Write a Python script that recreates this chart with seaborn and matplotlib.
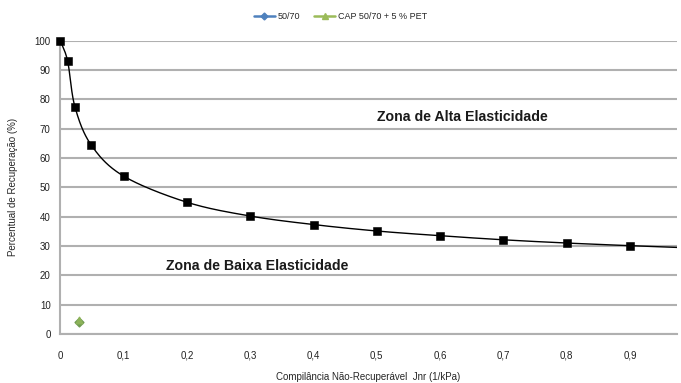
import numpy as np
import matplotlib
matplotlib.use("Agg")
import matplotlib.pyplot as plt
import seaborn as sns
import pandas as pd

# Non-recoverable compliance (Jnr, 1/kPa) vs. percent recovery boundary curve
curve_jnr = [0.0, 0.0115, 0.023, 0.049, 0.1, 0.2, 0.3, 0.4, 0.5, 0.6, 0.7, 0.8, 0.9, 1.0]
curve_rec = [100.0, 92.9, 77.4, 64.3, 53.8, 44.9, 40.2, 37.3, 35.1, 33.5, 32.1, 31.0, 30.1, 29.3]

# Binder results
binder_names = ["50/70", "CAP 50/70 + 5 % PET"]
binder_jnr = [0.03, 0.03]
binder_rec = [4.0, 4.8]

x_ticks = [0, 0.1, 0.2, 0.3, 0.4, 0.5, 0.6, 0.7, 0.8, 0.9]
x_tick_labels = ["0", "0,1", "0,2", "0,3", "0,4", "0,5", "0,6", "0,7", "0,8", "0,9"]
y_ticks = list(range(0, 101, 10))

sns.set_theme(style="white")
plt.rcParams["font.family"] = ["Liberation Sans Narrow", "Liberation Sans", "DejaVu Sans"]


def smooth(xs, ys, n=30):
    """Bezier smoothing through the points, used only for drawing the curve."""
    xs = np.asarray(xs, float)
    ys = np.asarray(ys, float)
    px = np.concatenate([[2 * xs[0] - xs[1]], xs, [2 * xs[-1] - xs[-2]]])
    py = np.concatenate([[2 * ys[0] - ys[1]], ys, [2 * ys[-1] - ys[-2]]])
    out_x, out_y = [], []
    for i in range(1, len(px) - 2):
        t = np.linspace(0, 1, n, endpoint=False)
        p0, p1, p2, p3 = [np.array([px[j], py[j]]) for j in range(i - 1, i + 3)]
        m1 = (p2 - p0) / 6.0
        m2 = (p3 - p1) / 6.0
        c1 = p1 + m1
        c2 = p2 - m2
        b = ((1 - t) ** 3)[:, None] * p1 + (3 * (1 - t) ** 2 * t)[:, None] * c1 \
            + (3 * (1 - t) * t ** 2)[:, None] * c2 + (t ** 3)[:, None] * p2
        out_x.extend(b[:, 0])
        out_y.extend(b[:, 1])
    out_x.append(xs[-1])
    out_y.append(ys[-1])
    return np.array(out_x), np.array(out_y)


fig = plt.figure(figsize=(6.81, 3.83), dpi=100)
ax = fig.add_axes([0.0887, 0.128, 0.905, 0.766])

sx, sy = smooth(curve_jnr, curve_rec)
sns.lineplot(x=sx, y=sy, ax=ax, color="black", lw=1.0, sort=False, zorder=3)
sns.scatterplot(x=curve_jnr[:-1], y=curve_rec[:-1], ax=ax, marker="s", s=26, color="black",
                edgecolor="black", zorder=4, clip_on=False)

binder_df = pd.DataFrame({"Jnr": binder_jnr, "Rec": binder_rec, "Ligante": binder_names})
ax.scatter(binder_df["Jnr"][0], binder_df["Rec"][0], marker="D", s=20, color="#6f9a52",
           zorder=5)
ax.scatter(binder_df["Jnr"][1], binder_df["Rec"][1], marker="^", s=22, color="#8db35a",
           zorder=6)

# legend handles
h1, = ax.plot([], [], color="#4f81bd", marker="D", ms=3.5, lw=1.8)
h2, = ax.plot([], [], color="#9bbb59", marker="^", ms=4.5, lw=1.8)
fig.legend([h1, h2], binder_names, loc="center", bbox_to_anchor=(0.5, 0.957), ncol=2,
           frameon=False, fontsize=6.5, handlelength=2.3, columnspacing=1.6,
           handletextpad=0.3)

ax.set_xlim(0, 0.974)
ax.set_ylim(0, 100)
ax.set_xticks(x_ticks)
ax.set_xticklabels(x_tick_labels, fontsize=7)
ax.set_yticks(y_ticks)
ax.set_yticklabels([str(v) for v in y_ticks], fontsize=7)
ax.grid(axis="y", color="#b0b0b0", lw=1.5)
ax.set_axisbelow(True)
for side in ["top", "right"]:
    ax.spines[side].set_visible(False)
for side in ["left", "bottom"]:
    ax.spines[side].set_color("#b0b0b0")
    ax.spines[side].set_linewidth(1.5)
ax.tick_params(axis="both", which="both", length=3, width=1, color="#b0b0b0",
               direction="out", labelcolor="#222222")
ax.tick_params(axis="x", pad=9)
ax.tick_params(axis="y", pad=4)

ax.set_xlabel("Compilância Não-Recuperável  Jnr (1/kPa)", fontsize=7, labelpad=8)
ax.set_ylabel("Percentual de Recuperação (%)", fontsize=7, labelpad=12)

ax.text(0.5, 74, "Zona de Alta Elasticidade", fontsize=10.2, family="Liberation Sans",
        fontweight="bold", ha="left", va="center", color="#1a1a1a")
ax.text(0.167, 23, "Zona de Baixa Elasticidade", fontsize=10.2, family="Liberation Sans",
        fontweight="bold", ha="left", va="center", color="#1a1a1a")

fig.savefig("out.png", dpi=100)
